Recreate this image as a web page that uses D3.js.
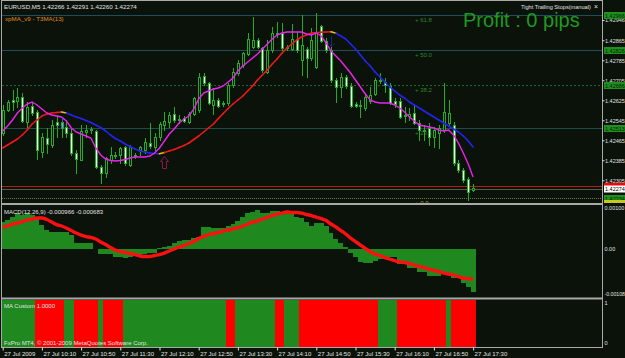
<!DOCTYPE html>
<html>
<head>
<meta charset="utf-8">
<script src="https://d3js.org/d3.v7.min.js"></script>
<style>
  html, body { margin: 0; padding: 0; background: #0a120a; overflow: hidden; }
  svg { display: block; }
  text { font-family: "Liberation Sans", Arial, sans-serif; }
</style>
</head>
<body>
<script>
// ---- data (EURUSD M5, 27 Jul 2009, 09:30 - 17:30) ----
const symbol = "EURUSD,M5";
const lastOHLC = [1.42266, 1.42291, 1.42260, 1.42274];

const opens = [1.42494,1.42586,1.42626,1.42622,1.42638,1.42538,1.42602,1.42578,1.42418,1.42474,
  1.42446,1.42538,1.42538,1.42518,1.42494,1.42414,1.42386,1.42498,1.42506,1.42502,
  1.42358,1.42334,1.42386,1.42402,1.42406,1.42438,1.42366,1.42406,1.42426,1.42426,
  1.42454,1.42438,1.42478,1.42526,1.42538,1.42570,1.42546,1.42554,1.42538,1.42570,
  1.42586,1.42722,1.42694,1.42606,1.42626,1.42610,1.42614,1.42686,1.42734,1.42766,
  1.42810,1.42838,1.42866,1.42834,1.42738,1.42826,1.42890,1.42894,1.42834,1.42830,
  1.42870,1.42786,1.42830,1.42794,1.42758,1.42922,1.42862,1.42826,1.42706,1.42678,
  1.42718,1.42682,1.42610,1.42602,1.42594,1.42622,1.42650,1.42706,1.42698,1.42682,
  1.42622,1.42622,1.42562,1.42562,1.42574,1.42534,1.42506,1.42514,1.42478,1.42494,
  1.42506,1.42534,1.42526,1.42374,1.42346,1.42310,1.42266];
const highs = [1.42606,1.42626,1.42666,1.42674,1.42654,1.42618,1.42614,1.42586,1.42494,1.42514,
  1.42546,1.42566,1.42558,1.42546,1.42510,1.42426,1.42526,1.42526,1.42518,1.42506,
  1.42366,1.42398,1.42438,1.42418,1.42438,1.42442,1.42446,1.42414,1.42442,1.42474,
  1.42534,1.42494,1.42538,1.42578,1.42578,1.42598,1.42566,1.42562,1.42578,1.42638,
  1.42734,1.42734,1.42698,1.42674,1.42634,1.42622,1.42694,1.42754,1.42786,1.42818,
  1.42894,1.42958,1.42874,1.42838,1.42866,1.42918,1.42938,1.42934,1.42846,1.42930,
  1.42898,1.42966,1.42838,1.42914,1.42974,1.42926,1.42874,1.42838,1.42714,1.42734,
  1.42726,1.42694,1.42618,1.42626,1.42654,1.42678,1.42714,1.42734,1.42714,1.42694,
  1.42634,1.42634,1.42598,1.42594,1.42606,1.42546,1.42526,1.42534,1.42518,1.42526,
  1.42694,1.42626,1.42538,1.42386,1.42354,1.42318,1.42291];
const lows = [1.42486,1.42582,1.42586,1.42598,1.42538,1.42518,1.42566,1.42390,1.42398,1.42414,
  1.42438,1.42478,1.42478,1.42478,1.42406,1.42334,1.42386,1.42478,1.42494,1.42354,
  1.42294,1.42318,1.42374,1.42394,1.42374,1.42366,1.42362,1.42394,1.42406,1.42414,
  1.42434,1.42426,1.42466,1.42506,1.42518,1.42538,1.42534,1.42538,1.42534,1.42566,
  1.42578,1.42686,1.42610,1.42570,1.42598,1.42602,1.42606,1.42678,1.42726,1.42758,
  1.42806,1.42834,1.42834,1.42738,1.42734,1.42818,1.42878,1.42826,1.42826,1.42826,
  1.42818,1.42726,1.42718,1.42786,1.42754,1.42858,1.42818,1.42698,1.42618,1.42638,
  1.42674,1.42598,1.42598,1.42558,1.42586,1.42614,1.42646,1.42694,1.42658,1.42610,
  1.42598,1.42554,1.42538,1.42546,1.42530,1.42466,1.42466,1.42446,1.42438,1.42434,
  1.42498,1.42526,1.42366,1.42338,1.42298,1.42226,1.42260];
const closes = [1.42586,1.42618,1.42618,1.42638,1.42542,1.42598,1.42574,1.42426,1.42478,1.42450,
  1.42526,1.42526,1.42514,1.42494,1.42414,1.42390,1.42502,1.42506,1.42510,1.42358,
  1.42334,1.42394,1.42406,1.42406,1.42434,1.42374,1.42438,1.42402,1.42438,1.42458,
  1.42442,1.42478,1.42530,1.42542,1.42566,1.42546,1.42550,1.42542,1.42570,1.42634,
  1.42718,1.42694,1.42614,1.42626,1.42602,1.42614,1.42686,1.42738,1.42774,1.42814,
  1.42870,1.42866,1.42838,1.42746,1.42826,1.42894,1.42894,1.42834,1.42838,1.42870,
  1.42826,1.42846,1.42794,1.42866,1.42898,1.42862,1.42826,1.42706,1.42678,1.42718,
  1.42682,1.42602,1.42602,1.42606,1.42638,1.42646,1.42706,1.42702,1.42686,1.42614,
  1.42610,1.42558,1.42566,1.42570,1.42534,1.42506,1.42502,1.42478,1.42506,1.42514,
  1.42578,1.42574,1.42374,1.42346,1.42306,1.42258,1.42274];

// xpMA (red rising / blue falling)
const xpma = [1.42434,1.42446,1.42458,1.42470,1.42486,1.42506,1.42530,1.42546,1.42562,1.42570,
  1.42574,1.42576,1.42578,1.42574,1.42566,1.42558,1.42552,1.42544,1.42536,1.42526,
  1.42516,1.42502,1.42486,1.42472,1.42462,1.42450,1.42440,1.42430,1.42422,1.42418,
  1.42414,1.42412,1.42411,1.42416,1.42422,1.42428,1.42436,1.42444,1.42454,1.42468,
  1.42482,1.42498,1.42514,1.42530,1.42552,1.42572,1.42592,1.42610,1.42626,1.42642,
  1.42662,1.42682,1.42706,1.42726,1.42746,1.42770,1.42790,1.42814,1.42834,1.42850,
  1.42866,1.42878,1.42886,1.42894,1.42896,1.42897,1.42898,1.42899,1.42893,1.42882,
  1.42870,1.42850,1.42830,1.42806,1.42782,1.42762,1.42738,1.42718,1.42698,1.42678,
  1.42662,1.42646,1.42634,1.42618,1.42606,1.42594,1.42582,1.42570,1.42558,1.42546,
  1.42534,1.42522,1.42510,1.42498,1.42482,1.42462,1.42438];
// T3MA(13) magenta
const t3ma = [1.42502,1.42522,1.42546,1.42574,1.42594,1.42610,1.42618,1.42606,1.42590,1.42574,
  1.42566,1.42562,1.42558,1.42542,1.42514,1.42498,1.42490,1.42482,1.42474,1.42434,
  1.42406,1.42390,1.42384,1.42382,1.42384,1.42388,1.42394,1.42398,1.42398,1.42398,
  1.42402,1.42414,1.42434,1.42462,1.42490,1.42510,1.42534,1.42550,1.42562,1.42590,
  1.42630,1.42654,1.42662,1.42670,1.42674,1.42682,1.42698,1.42714,1.42742,1.42762,
  1.42778,1.42794,1.42810,1.42830,1.42850,1.42870,1.42886,1.42894,1.42898,1.42898,
  1.42898,1.42898,1.42890,1.42886,1.42894,1.42882,1.42854,1.42822,1.42802,1.42782,
  1.42758,1.42734,1.42706,1.42678,1.42650,1.42626,1.42618,1.42614,1.42614,1.42614,
  1.42606,1.42594,1.42578,1.42558,1.42542,1.42526,1.42522,1.42518,1.42514,1.42506,
  1.42502,1.42506,1.42486,1.42454,1.42414,1.42370,1.42318];

const macdMain = [0.00061,0.00066,0.00073,0.00082,0.00077,0.00082,0.00077,0.00073,0.00055,0.00043,
  0.00039,0.00039,0.00039,0.00039,0.00032,0.00014,0.00014,0.00014,0.00014,0.00001,
  -0.00011,-0.00011,-0.00011,-0.00018,-0.00018,-0.00020,-0.00018,-0.00013,-0.00013,-0.00011,
  -0.00009,-0.00009,0.00003,0.00006,0.00007,0.00014,0.00019,0.00021,0.00021,0.00025,
  0.00028,0.00050,0.00050,0.00048,0.00048,0.00048,0.00052,0.00057,0.00064,0.00073,
  0.00082,0.00084,0.00089,0.00082,0.00082,0.00086,0.00086,0.00084,0.00084,0.00080,
  0.00073,0.00071,0.00061,0.00052,0.00059,0.00059,0.00052,0.00037,0.00023,0.00014,
  0.00005,-0.00009,-0.00018,-0.00029,-0.00031,-0.00031,-0.00027,-0.00022,-0.00022,-0.00018,
  -0.00018,-0.00033,-0.00033,-0.00043,-0.00043,-0.00052,-0.00052,-0.00061,-0.00061,-0.00061,
  -0.00054,-0.00054,-0.00065,-0.00065,-0.00076,-0.00085,-0.000966];
const macdSignal = [0.000502,0.000525,0.000570,0.000592,0.000626,0.000660,0.000683,0.000706,0.000706,0.000672,
  0.000615,0.000558,0.000525,0.000479,0.000423,0.000366,0.000321,0.000287,0.000265,0.000231,
  0.000163,0.000106,0.000038,-0.000018,-0.000052,-0.000075,-0.000097,-0.000120,-0.000154,-0.000165,
  -0.000165,-0.000142,-0.000120,-0.000086,-0.000041,0.000005,0.000050,0.000084,0.000129,0.000174,
  0.000242,0.000287,0.000332,0.000355,0.000378,0.000412,0.000434,0.000457,0.000491,0.000525,
  0.000570,0.000615,0.000638,0.000683,0.000717,0.000762,0.000796,0.000818,0.000841,0.000830,
  0.000830,0.000818,0.000785,0.000762,0.000728,0.000694,0.000649,0.000570,0.000502,0.000423,
  0.000344,0.000253,0.000174,0.000095,0.000016,-0.000052,-0.000109,-0.000142,-0.000188,-0.000222,
  -0.000255,-0.000289,-0.000301,-0.000323,-0.000357,-0.000391,-0.000414,-0.000448,-0.000482,-0.000504,
  -0.000538,-0.000561,-0.000583,-0.000617,-0.000651,-0.000668,-0.000683];

// MA Custom: 1 = red bar, 0 = green bar
const maCustomRed = [0,0,0,0,0,0,0,1,1,1, 1,1,1,0,0,1,1,1,1,1,
  0,1,1,1,1,0,0,0,0,0, 0,0,0,0,0,0,0,0,0,0,
  0,0,0,0,0,0,1,1,0,0, 0,0,0,0,0,0,1,1,0,0,
  0,1,1,1,1,1,1,1,1,1, 1,1,1,1,1,1,1,0,0,0,
  0,1,1,1,1,1,1,1,1,1, 1,0,1,1,1,1,1];

const timeTickBars = [0, 8, 16, 24, 32, 40, 48, 56, 64, 72, 80, 88, 96];
const timeTickLabels = ["27 Jul 2009", "27 Jul 10:10", "27 Jul 10:50", "27 Jul 11:30", "27 Jul 12:10",
  "27 Jul 12:50", "27 Jul 13:30", "27 Jul 14:10", "27 Jul 14:50", "27 Jul 15:30", "27 Jul 16:10",
  "27 Jul 16:50", "27 Jul 17:30"];
const priceTicks = [1.42946, 1.42865, 1.42785, 1.42705, 1.42625, 1.42545, 1.42465, 1.42385, 1.42305];

const fiboLow = 1.42234, fiboHigh = 1.43418;
const fiboLevels = [0, 23.6, 38.2, 50.0, 61.8];
const bidPrice = 1.42274;
const stopPrice = 1.42282;
const upArrows = [{ bar: 33, price: 1.42402 }];
const downArrows = [{ bar: 12, price: 1.42558 }, { bar: 67, price: 1.42880 }];

// ---- layout ----
const W = 625, H = 358;
const left = 2, right = 602;
const mainTop = 2, mainBottom = 203;
const macdTop = 205, macdBottom = 297;
const maTop = 300, maBottom = 347;

const bg = '#0a120a';
const frame = '#a9a9a9';
const txt = '#e2e2e2';
const candleGreen = '#24aa24';
const histGreen = '#1f881f';
const axisFont = 5.5;

const svg = d3.select('body').append('svg').attr('width', W).attr('height', H);
svg.append('rect').attr('width', W).attr('height', H).attr('fill', bg);

const defs = svg.append('defs');
function clip(id, y0, y1) {
  defs.append('clipPath').attr('id', id).append('rect')
    .attr('x', left).attr('y', y0).attr('width', right - left).attr('height', y1 - y0);
}
clip('cMain', mainTop, mainBottom);
clip('cMacd', macdTop, macdBottom);
clip('cMa', maTop, maBottom);

const x = d3.scaleLinear().domain([0, 96]).range([2.7, 473.1]);
const step = x(1) - x(0);
const edge = i => Math.round(x(i) - step / 2);
const y = d3.scaleLinear().domain([1.42214, 1.43018]).range([mainBottom, mainTop]);
const yM = d3.scaleLinear().domain([-0.00108, 0.00100]).range([macdBottom, macdTop]);

// ---- main panel ----
const main = svg.append('g').attr('clip-path', 'url(#cMain)');

const fiboStyle = {
  0: { c: '#6b7a1c', dash: '1,1' },
  23.6: { c: '#1f4b4b', dash: null },
  38.2: { c: '#1f6a2a', dash: '2,2' },
  50: { c: '#1f4d5c', dash: null },
  61.8: { c: '#1f4d5c', dash: null }
};
fiboLevels.forEach(lv => {
  const p = fiboLow + (fiboHigh - fiboLow) * lv / 100;
  const yy = Math.round(y(p)) + 0.5;
  const st = fiboStyle[lv];
  main.append('line').attr('x1', left).attr('x2', right).attr('y1', yy).attr('y2', yy)
    .attr('stroke', st.c).attr('stroke-width', 1).attr('stroke-dasharray', st.dash);
  main.append('text').attr('x', 415).attr('y', yy + 6)
    .attr('font-size', 6).attr('fill', lv === 0 ? '#b0a020' : '#2a8a2a')
    .text('+ ' + lv.toFixed(1));
});

main.append('line').attr('x1', left).attr('x2', right)
  .attr('y1', Math.round(y(stopPrice)) + 0.5).attr('y2', Math.round(y(stopPrice)) + 0.5)
  .attr('stroke', '#b02010');
main.append('line').attr('x1', left).attr('x2', right)
  .attr('y1', Math.round(y(bidPrice)) + 1.5).attr('y2', Math.round(y(bidPrice)) + 1.5)
  .attr('stroke', '#555a55');

// candles
const bars = d3.range(opens.length).map(i => ({
  i, o: opens[i], h: highs[i], l: lows[i], c: closes[i]
}));
const cg = main.append('g');
bars.forEach(d => {
  const cx = Math.round(x(d.i));
  cg.append('line').attr('x1', cx + 0.5).attr('x2', cx + 0.5)
    .attr('y1', Math.round(y(d.h))).attr('y2', Math.round(y(d.l)) + 1)
    .attr('stroke', candleGreen);
  const top = Math.round(y(Math.max(d.o, d.c))) + 0.5;
  const bot = Math.round(y(Math.min(d.o, d.c))) + 0.5;
  cg.append('rect').attr('x', cx - 0.5).attr('y', top)
    .attr('width', 2).attr('height', Math.max(0, bot - top))
    .attr('fill', d.c >= d.o ? bg : '#f4fff4')
    .attr('stroke', candleGreen).attr('stroke-width', 1);
});

// xpMA coloured by direction, yellow where it turns
for (let i = 0; i < xpma.length - 1; i++) {
  const dNow = xpma[i + 1] - xpma[i];
  const dPrev = i > 0 ? xpma[i] - xpma[i - 1] : dNow;
  let col = dNow > 0 ? '#f01818' : '#2424f0';
  if (Math.sign(dNow) !== Math.sign(dPrev)) col = '#e8c000';
  main.append('line')
    .attr('x1', x(i)).attr('y1', y(xpma[i]))
    .attr('x2', x(i + 1)).attr('y2', y(xpma[i + 1]))
    .attr('stroke', col).attr('stroke-width', 1.6).attr('stroke-linecap', 'round');
}

main.append('path').datum(t3ma)
  .attr('d', d3.line().x((d, i) => x(i)).y(d => y(d)))
  .attr('fill', 'none').attr('stroke', '#ee22ee').attr('stroke-width', 1.4);

// signal arrows
upArrows.forEach(a => {
  const cx = Math.round(x(a.bar)) + 0.5, ty = Math.round(y(a.price)) + 0.5;
  main.append('path')
    .attr('d', `M${cx},${ty} L${cx + 4},${ty + 5} L${cx + 2},${ty + 5} L${cx + 2},${ty + 12} L${cx - 2},${ty + 12} L${cx - 2},${ty + 5} L${cx - 4},${ty + 5} Z`)
    .attr('fill', 'none').attr('stroke', '#8a1848');
});
downArrows.forEach(a => {
  const cx = Math.round(x(a.bar)) + 0.5, ty = Math.round(y(a.price)) + 0.5;
  main.append('path')
    .attr('d', `M${cx},${ty} L${cx},${ty + 10} M${cx - 3},${ty + 7} L${cx},${ty + 10} L${cx + 3},${ty + 7}`)
    .attr('fill', 'none').attr('stroke', '#2a3aff').attr('stroke-dasharray', '1,1');
});

// ---- MACD panel ----
const macd = svg.append('g').attr('clip-path', 'url(#cMacd)');
// histogram as one stepped area
const histPts = macdMain.flatMap((v, i) => [[edge(i), v], [edge(i + 1), v]]);
macd.append('path').datum(histPts)
  .attr('d', d3.area().x(d => d[0]).y0(Math.round(yM(0))).y1(d => Math.round(yM(d[1]))))
  .attr('fill', histGreen).attr('shape-rendering', 'crispEdges');
macd.append('path').datum(macdSignal)
  .attr('d', d3.line().x((d, i) => x(i)).y(d => yM(d)).curve(d3.curveMonotoneX))
  .attr('fill', 'none').attr('stroke', '#ff1010').attr('stroke-width', 3.4)
  .attr('stroke-linejoin', 'round');

// ---- MA Custom panel: merge equal neighbours into runs ----
const runs = [];
maCustomRed.forEach((v, i) => {
  const last = runs[runs.length - 1];
  if (last && last.v === v) last.end = i; else runs.push({ v, start: i, end: i });
});
const ma = svg.append('g').attr('clip-path', 'url(#cMa)').attr('shape-rendering', 'crispEdges');
ma.selectAll('rect').data(runs).enter().append('rect')
  .attr('x', d => edge(d.start))
  .attr('width', d => edge(d.end + 1) - edge(d.start))
  .attr('y', maTop).attr('height', maBottom - maTop)
  .attr('fill', d => d.v ? '#ff0000' : histGreen);

// ---- frame ----
const fr = svg.append('g').attr('stroke', frame).attr('fill', 'none');
fr.append('line').attr('x1', 1.5).attr('x2', 1.5).attr('y1', 0).attr('y2', 348);
fr.append('line').attr('x1', 1).attr('x2', right + 1).attr('y1', 0.5).attr('y2', 0.5);
[204, 298.5].forEach(yy => fr.append('line').attr('x1', 1).attr('x2', right + 1)
  .attr('y1', yy).attr('y2', yy).attr('stroke-width', 2));
fr.append('line').attr('x1', 1).attr('x2', right + 1).attr('y1', 347.5).attr('y2', 347.5);

// ---- price axis ----
const pAxis = svg.append('g').attr('transform', `translate(${right + 0.5},0)`)
  .call(d3.axisRight(y).tickValues(priceTicks).tickSize(2).tickPadding(0.5).tickFormat(d3.format('.5f')));
pAxis.select('.domain').attr('stroke', frame).attr('d', `M0,0V348`);
pAxis.selectAll('.tick line').attr('stroke', txt);
pAxis.selectAll('text').attr('fill', txt).attr('font-size', axisFont)
  .attr('font-family', '"Liberation Sans", Arial, sans-serif');

// fibo price boxes on axis
fiboLevels.forEach(lv => {
  const p = fiboLow + (fiboHigh - fiboLow) * lv / 100;
  const yy = Math.round(y(p));
  svg.append('rect').attr('x', right + 2).attr('y', yy - 3).attr('width', W - right).attr('height', 7)
    .attr('fill', '#1f8f1f');
  svg.append('text').attr('x', right + 3).attr('y', yy + 2.5).attr('font-size', axisFont)
    .attr('fill', '#062206').text(d3.format('.5f')(p));
});
// stop / bid boxes
svg.append('rect').attr('x', right + 2).attr('y', Math.round(y(stopPrice)) - 3).attr('width', W - right).attr('height', 5)
  .attr('fill', '#ff0000');
svg.append('rect').attr('x', right + 2).attr('y', Math.round(y(bidPrice)) - 2.5).attr('width', W - right).attr('height', 7)
  .attr('fill', '#ffffff');
svg.append('text').attr('x', right + 3).attr('y', Math.round(y(bidPrice)) + 3).attr('font-size', axisFont)
  .attr('fill', '#000').text(d3.format('.5f')(bidPrice));
svg.append('rect').attr('x', right + 2).attr('y', 200).attr('width', W - right).attr('height', 3)
  .attr('fill', '#c8c820');

// MACD & MA Custom axis labels
const sideLabels = [
  { t: '0.00100', y: yM(0.00100) + 5, s: axisFont },
  { t: '0.00', y: yM(0) + 2, s: axisFont },
  { t: '-0.00108', y: yM(-0.00108) - 1, s: 5.2 },
  { t: '1', y: maTop + 5, s: axisFont },
  { t: '0', y: maBottom - 2, s: axisFont }
];
sideLabels.forEach(s => svg.append('text').attr('x', right + 2.5).attr('y', s.y)
  .attr('font-size', s.s).attr('fill', txt).text(s.t));

// ---- time axis ----
const tAxis = svg.append('g').attr('transform', `translate(0,347.5)`)
  .call(d3.axisBottom(x).tickValues(timeTickBars).tickSize(3).tickPadding(1)
    .tickFormat((d, i) => timeTickLabels[i]));
tAxis.select('.domain').remove();
tAxis.selectAll('.tick line').attr('stroke', txt);
tAxis.selectAll('text').attr('fill', txt).attr('font-size', 6).attr('text-anchor', 'start')
  .attr('dx', 1).attr('font-family', '"Liberation Sans", Arial, sans-serif');

// ---- labels ----
svg.append('text').attr('x', 4).attr('y', 9).attr('font-size', 6.2).attr('fill', txt)
  .text(symbol + '  ' + lastOHLC.map(d3.format('.5f')).join(' '));
svg.append('text').attr('x', 5).attr('y', 20.5).attr('font-size', 6.2).attr('fill', '#e08a1a')
  .text('xpMA_v9 - T3MA(13)');
svg.append('text').attr('x', 521).attr('y', 9).attr('font-size', 5.6).attr('fill', txt)
  .text('Tight Trailing Stops(manual)');
svg.append('text').attr('x', 594).attr('y', 9).attr('font-size', 7).attr('fill', txt).text('×');
svg.append('text').attr('x', 463).attr('y', 27).attr('font-size', 20).attr('fill', '#1f9a1f')
  .text('Profit : 0 pips');
svg.append('text').attr('x', 4).attr('y', 214).attr('font-size', 6).attr('fill', txt)
  .text('MACD(12,26,9) ' + macdMain[macdMain.length - 1].toFixed(6) + ' ' + macdSignal[macdSignal.length - 1].toFixed(6));
svg.append('text').attr('x', 4).attr('y', 308).attr('font-size', 6).attr('fill', txt)
  .text('MA Custom 1.0000');
svg.append('text').attr('x', 4).attr('y', 344.5).attr('font-size', 6).attr('fill', txt)
  .text('FxPro MT4, © 2001-2009 MetaQuotes Software Corp.');
</script>
</body>
</html>
